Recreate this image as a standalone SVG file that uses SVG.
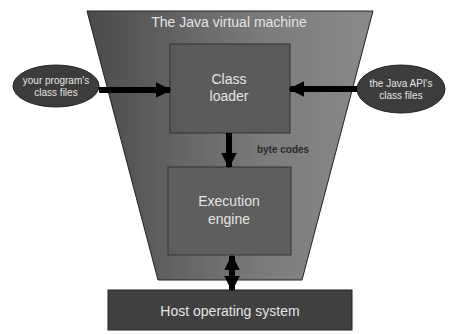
<svg xmlns="http://www.w3.org/2000/svg" width="449" height="334" viewBox="0 0 449 334">
<defs>
<style>
.lbl{font-family:"Liberation Sans",Arial,sans-serif;fill:#e4e4e4;text-anchor:middle;}
.big{font-size:14px;}
.sm{font-size:10px;}
.dark{fill:#2a2a2a;}
.conn{stroke:#000;stroke-width:6;fill:none;}
</style>
<linearGradient id="gTrap" x1="0" y1="0" x2="1" y2="0">
<stop offset="0" stop-color="#4a4a4a"/>
<stop offset="0.6" stop-color="#7a7a7a"/>
<stop offset="1" stop-color="#8a8a8a"/>
</linearGradient>
<marker id="ah" viewBox="0 0 10 10" refX="9" refY="5" markerWidth="2.6" markerHeight="2.6" orient="auto-start-reverse" markerUnits="strokeWidth">
<path d="M0,0 L10,5 L0,10 z" fill="#000"/>
</marker>
</defs>
<rect width="449" height="334" fill="#fff"/>
<g id="jvm">
<polygon points="87,11 373,11 302,280 158,280" fill="url(#gTrap)" stroke="#222" stroke-width="1"/>
<text class="lbl big" x="229" y="27">The Java virtual machine</text>
</g>
<g id="classloader">
<rect x="170" y="44" width="120" height="89" fill="#5a5a5a" stroke="#333" stroke-width="1"/>
<text class="lbl big" x="229" y="84">Class</text>
<text class="lbl big" x="229" y="101">loader</text>
</g>
<g id="engine">
<rect x="168" y="167" width="123" height="88" fill="#5e5e5e" stroke="#333" stroke-width="1"/>
<text class="lbl big" x="229" y="206">Execution</text>
<text class="lbl big" x="229" y="224">engine</text>
</g>
<g id="hostos">
<rect x="108" y="290" width="244" height="40" fill="#404040" stroke="#222" stroke-width="1"/>
<text class="lbl big" x="230" y="316">Host operating system</text>
</g>
<g id="progfiles">
<ellipse cx="56" cy="86" rx="43" ry="21" fill="#3c3c3c" stroke="#222" stroke-width="1"/>
<text class="lbl sm" x="56" y="84">your program's</text>
<text class="lbl sm" x="56" y="96">class files</text>
</g>
<g id="apifiles">
<ellipse cx="401" cy="89" rx="44" ry="24" fill="#3c3c3c" stroke="#222" stroke-width="1"/>
<text class="lbl sm" x="401" y="87">the Java API's</text>
<text class="lbl sm" x="401" y="99">class files</text>
</g>
<g id="connectors">
<line class="conn" x1="99" y1="90" x2="170" y2="90" marker-end="url(#ah)"/>
<line class="conn" x1="357" y1="89" x2="290" y2="89" marker-end="url(#ah)"/>
<line class="conn" x1="229" y1="133" x2="229" y2="167" marker-end="url(#ah)"/>
<line class="conn" x1="232" y1="256" x2="232" y2="290" marker-start="url(#ah)" marker-end="url(#ah)"/>
<text class="lbl dark" x="283" y="153" font-size="10" font-weight="bold">byte codes</text>
</g>
</svg>
